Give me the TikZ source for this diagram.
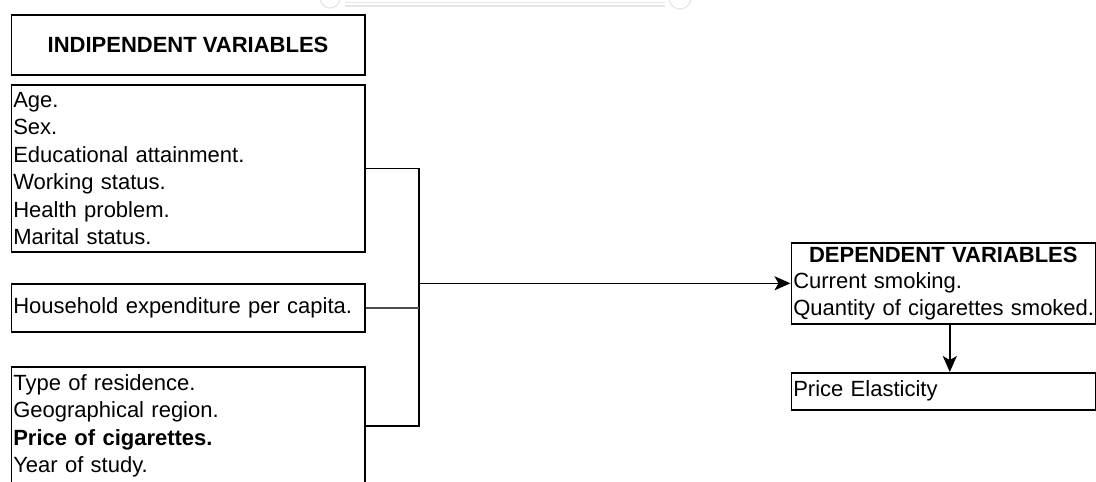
\documentclass[tikz,border=0pt]{standalone}
\usepackage{fontspec}
\setmainfont{Liberation Sans}
\usetikzlibrary{arrows.meta}
\begin{document}
\begin{tikzpicture}[x=1pt,y=-1pt,
  box/.style={draw, line width=1.6pt, rectangle, anchor=north west, inner xsep=2pt, inner ysep=0pt, align=left},
  txt/.style={font=\fontsize{22}{27.5}\selectfont},
  link/.style={line width=1.6pt},
  arr/.style={link, -{Stealth[length=16pt,width=14pt,inset=4pt]}},
  wm/.style={draw=black!10, line width=1.2pt}]
\useasboundingbox (0,0) rectangle (1096,482);
% faint watermark remnant at the top
\draw[wm] (345,2.5) -- (665,2.5);
\draw[wm] (345,6) -- (665,6);
\draw[wm] (330,-2) circle (10);
\draw[wm] (680,-2) circle (11);
% boxes
\node[box, minimum width=353.5pt, minimum height=60pt, align=center,
      font=\bfseries\fontsize{22}{27}\selectfont] (title) at (10.5,14) {INDIPENDENT VARIABLES};
\node[box, txt, minimum width=353.5pt, minimum height=167pt, text width=349.5pt] (b1) at (10.5,84)
  {Age.\\Sex.\\Educational attainment.\\Working status.\\Health problem.\\Marital status.};
\node[box, txt, minimum width=353.5pt, minimum height=48pt, text width=349.5pt] (b2) at (10.5,283)
  {Household expenditure per capita.};
\node[box, txt, minimum width=353.5pt, minimum height=118pt, text width=349.5pt,
      font=\fontsize{22}{27.3}\selectfont] (b3) at (10.5,366)
  {Type of residence.\\Geographical region.\\\textbf{Price of cigarettes.}\\Year of study.};
\node[box, txt, minimum width=304pt, minimum height=81pt, text width=300pt,
      font=\fontsize{22}{26.7}\selectfont] (dv) at (790.5,242)
  {\makebox[300pt][c]{\bfseries DEPENDENT VARIABLES}\\\mbox{Current smoking.}\\\mbox{Quantity of cigarettes smoked.}};
\node[box, txt, minimum width=304pt, minimum height=37pt, text width=300pt] (pe) at (790.5,372)
  {Price Elasticity};
% connectors
\coordinate (bx) at (419,0);
\draw[link] (b1.east) -- (b1.east -| bx) -- (b3.east -| bx) -- (b3.east);
\draw[link, draw=black!70] (b2.east) -- (b2.east -| bx);
\draw[arr] (dv.west -| bx) -- (dv.west);
\draw[arr] ([xshift=6.5pt]dv.south) -- ([xshift=6.5pt]pe.north);
\end{tikzpicture}
\end{document}
